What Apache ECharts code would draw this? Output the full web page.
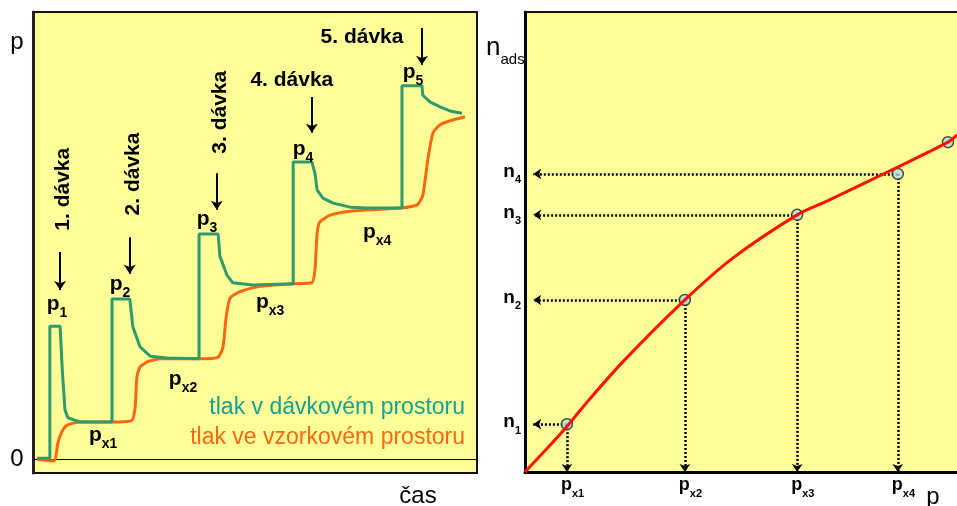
<!DOCTYPE html>
<html>
<head>
<meta charset="utf-8">
<script src="https://cdn.jsdelivr.net/npm/echarts@6/dist/echarts.min.js"></script>
<style>
html,body{margin:0;padding:0;background:#fff;}
#main{width:957px;height:506px;}
</style>
</head>
<body>
<div id="main"></div>
<script>
// levy graf: tlak v case, [cas, tlak]
var tlakDavka=[[0.9,0.3],[3.8,0.3],[3.8,29.8],[6.1,29.8],[6.6,20],[7.2,11.1],[7.9,9.3],[10.6,8.4],[17.8,8.4],
	[17.8,35.9],[21.8,35.9],[22.5,29.6],[24.1,25.2],[26.4,23.1],[30.2,22.7],[37.4,22.5],
	[37.4,50.4],[41.7,50.4],[42.1,45.4],[43.7,41.2],[45.0,39.5],[49.5,39.0],[58.6,39.3],
	[58.6,66.5],[62.8,66.5],[63.5,64.0],[64.0,60.2],[65.3,58.4],[67.6,57.3],[71.4,56.4],[75.2,56.2],[83.1,56.2],
	[83.1,83.5],[87.6,83.5],[87.8,81.4],[89.4,79.9],[91.7,78.8],[93.9,77.9],[96.6,77.4]];
var tlakVzorek=[[0.9,0],[4.7,-0.3],[5.6,3.7],[6.5,6.2],[7.7,7.7],[10.6,8.4],[18.0,8.4],[22.3,8.8],[23.0,11.7],
	[23.4,18.4],[24.1,20.7],[25.7,21.8],[28.6,22.5],[37.6,22.5],[41.7,22.9],[42.8,25.2],[43.5,31.9],
	[44.4,36.1],[46.6,37.5],[51.1,38.7],[58.6,39.3],[62.8,39.5],[63.5,42.4],[64.0,50.6],[64.6,53.1],
	[66.9,54.6],[71.4,55.5],[82.7,56.2],[86.5,56.9],[87.8,59.1],[88.9,66.9],[90.1,73.0],[91.7,74.8],
	[93.9,75.7],[97.3,76.6]];
var davky=['1. dávka','2. dávka','3. dávka','4. dávka','5. dávka'];
var davkyPos=[[6.8,60.4],[22.5,63.8],[42.1,77.6],[58.3,84.8],[74.1,94.4]];
var sipky=[[[6.1,46.4],[6.1,37.9]],[[21.8,49.7],[21.8,41.5]],[[41.4,64.0],[41.4,55.8]],[[62.8,81.0],[62.8,73.0]],[[87.6,96.4],[87.6,88.2]]];
var pIndexy=['1','2','3','4','5'];
var pPos=[[5.4,34.1],[19.6,38.6],[39.2,53.1],[60.8,68.7],[85.6,85.9]];
var pxIndexy=['x1','x2','x3','x4'];
var pxPos=[[15.8,4.8],[33.8,17.3],[53.4,34.5],[77.5,50.2]];
var legenda=['tlak v dávkovém prostoru','tlak ve vzorkovém prostoru'];

// pravy graf: izoterma, [p, n_ads]
var izoterma=[[0,0],[4.6,4.6],[9.7,9.9],[14.0,14.8],[22.7,24.0],[37.0,37.4],[48.1,46.5],[63.0,55.9],[69.9,58.9],[86.3,66.3],[97.9,71.7],[100,73.3]];
var body=[[9.7,10.4],[37.0,37.4],[63.0,55.9],[86.3,64.8],[97.9,71.7]];
var nIndexy=['1','2','3','4'];

var cerna='#000';
var font='Liberation Sans, Arial, sans-serif';

function sub(m,s){ return '{m|'+m+'}{s|'+s+'}'; }
function richSub(big,small){
	return {
		m:{fontSize:big,fontWeight:'bold',fontFamily:font,color:cerna,verticalAlign:'bottom',padding:[0,0,Math.round(big*0.25),0]},
		s:{fontSize:small,fontWeight:'bold',fontFamily:font,color:cerna,verticalAlign:'bottom'}
	};
}

// tecky k osam
var vodorovne=[],svisle=[];
for(var i=0;i<4;i++){
	vodorovne.push({coords:[body[i],[1.9,body[i][1]]]});
	svisle.push({coords:[body[i],[body[i][0],0]]});
}
var sipkyData=[];
for(var i=0;i<sipky.length;i++){
	sipkyData.push({coords:sipky[i]});
}

var chart=echarts.init(document.getElementById('main'));
var option={
	backgroundColor:'#ffffff',
	animation:false,
	grid:[
		{left:33,top:12,width:444,height:461,show:true,backgroundColor:'#ffff99',borderColor:'#111',borderWidth:2},
		{left:525,top:12,right:0,height:460,show:true,backgroundColor:'#ffff99',borderWidth:0}
	],
	xAxis:[
		{type:'value',gridIndex:0,min:0,max:100,axisLine:{onZero:true,lineStyle:{color:cerna,width:1}},axisTick:{show:false},axisLabel:{show:false},splitLine:{show:false}},
		{type:'value',gridIndex:1,min:0,max:100,axisLine:{lineStyle:{color:cerna,width:3}},axisTick:{show:false},axisLabel:{show:false},splitLine:{show:false}},
		{type:'value',gridIndex:1,position:'top',min:0,max:100,axisLine:{lineStyle:{color:'#111',width:2}},axisTick:{show:false},axisLabel:{show:false},splitLine:{show:false}}
	],
	yAxis:[
		{type:'value',gridIndex:0,min:-3,max:100,axisLine:{show:true,onZero:false,lineStyle:{color:'#222',width:3}},axisTick:{show:false},axisLabel:{show:false},splitLine:{show:false}},
		{type:'value',gridIndex:1,min:0,max:100,axisLine:{show:true,lineStyle:{color:cerna,width:3}},axisTick:{show:false},axisLabel:{show:false},splitLine:{show:false}}
	],
	series:[
		{
			name:legenda[1],type:'line',xAxisIndex:0,yAxisIndex:0,data:tlakVzorek,
			showSymbol:false,smooth:0.2,lineStyle:{color:'#ff6611',width:3}
		},
		{
			name:legenda[0],type:'line',xAxisIndex:0,yAxisIndex:0,data:tlakDavka,
			showSymbol:false,smooth:false,lineStyle:{color:'#2e9a6e',width:3}
		},
		{
			type:'lines',coordinateSystem:'cartesian2d',xAxisIndex:0,yAxisIndex:0,
			data:sipkyData,symbol:['none','arrow'],symbolSize:9,
			lineStyle:{color:cerna,width:2,opacity:1}
		},
		{
			name:'izoterma',type:'line',xAxisIndex:1,yAxisIndex:1,data:izoterma,
			showSymbol:false,smooth:0.3,lineStyle:{color:'#ff1100',width:3}
		},
		{
			type:'lines',coordinateSystem:'cartesian2d',xAxisIndex:1,yAxisIndex:1,
			data:vodorovne.concat(svisle),symbol:['none','arrow'],symbolSize:8,
			lineStyle:{color:'#000',width:2.5,type:[2,2],opacity:1}
		},
		{
			type:'scatter',xAxisIndex:1,yAxisIndex:1,data:body,symbol:'circle',symbolSize:11,
			itemStyle:{color:'#b3dbe6',borderColor:'#222',borderWidth:1.5}
		}
	]
};
chart.setOption(option);

// popisky
var g=[];
function txt(x,y,text,style,extra){
	var o={type:'text',x:x,y:y,z:100,style:Object.assign({text:text,fontFamily:font,fill:cerna,align:'center',verticalAlign:'middle'},style)};
	if(extra){ Object.assign(o,extra); }
	g.push(o);
}
for(var i=0;i<davky.length;i++){
	var pt=chart.convertToPixel({gridIndex:0},davkyPos[i]);
	txt(pt[0],pt[1],davky[i],{fontSize:21,fontWeight:'bold'},i<3?{rotation:Math.PI/2}:null);
}
for(var i=0;i<pIndexy.length;i++){
	var pt=chart.convertToPixel({gridIndex:0},pPos[i]);
	txt(pt[0],pt[1],sub('p',pIndexy[i]),{rich:richSub(21,14)});
}
for(var i=0;i<pxIndexy.length;i++){
	var pt=chart.convertToPixel({gridIndex:0},pxPos[i]);
	txt(pt[0],pt[1],sub('p',pxIndexy[i]),{rich:richSub(21,14)});
}
var l1=chart.convertToPixel({gridIndex:0},[97.3,11.5]);
var l2=chart.convertToPixel({gridIndex:0},[97.3,4.8]);
txt(l1[0],l1[1],legenda[0],{fontSize:23,fill:'#16a096',align:'right'});
txt(l2[0],l2[1],legenda[1],{fontSize:23,fill:'#ff6611',align:'right'});
var nula=chart.convertToPixel({gridIndex:0},[0,0]);
txt(17,nula[1],'0',{fontSize:24});
txt(17,42,'p',{fontSize:24});
txt(418,496,'čas',{fontSize:24});

// pravy graf
for(var i=0;i<4;i++){
	var pt=chart.convertToPixel({gridIndex:1},body[i]);
	txt(521,pt[1],sub('n',nIndexy[i]),{rich:richSub(19,11),align:'right'});
	txt(pt[0]-6,488,sub('p',pxIndexy[i]),{rich:richSub(18,11),align:'left'});
}
txt(486,51,'{a|n}{b|ads}',{align:'left',rich:{
	a:{fontSize:26,fontFamily:font,color:cerna,verticalAlign:'bottom',padding:[0,0,7,0]},
	b:{fontSize:15,fontFamily:font,color:cerna,verticalAlign:'bottom'}
}});
txt(933,497,'p',{fontSize:24});

chart.setOption({graphic:g});
</script>
</body>
</html>
